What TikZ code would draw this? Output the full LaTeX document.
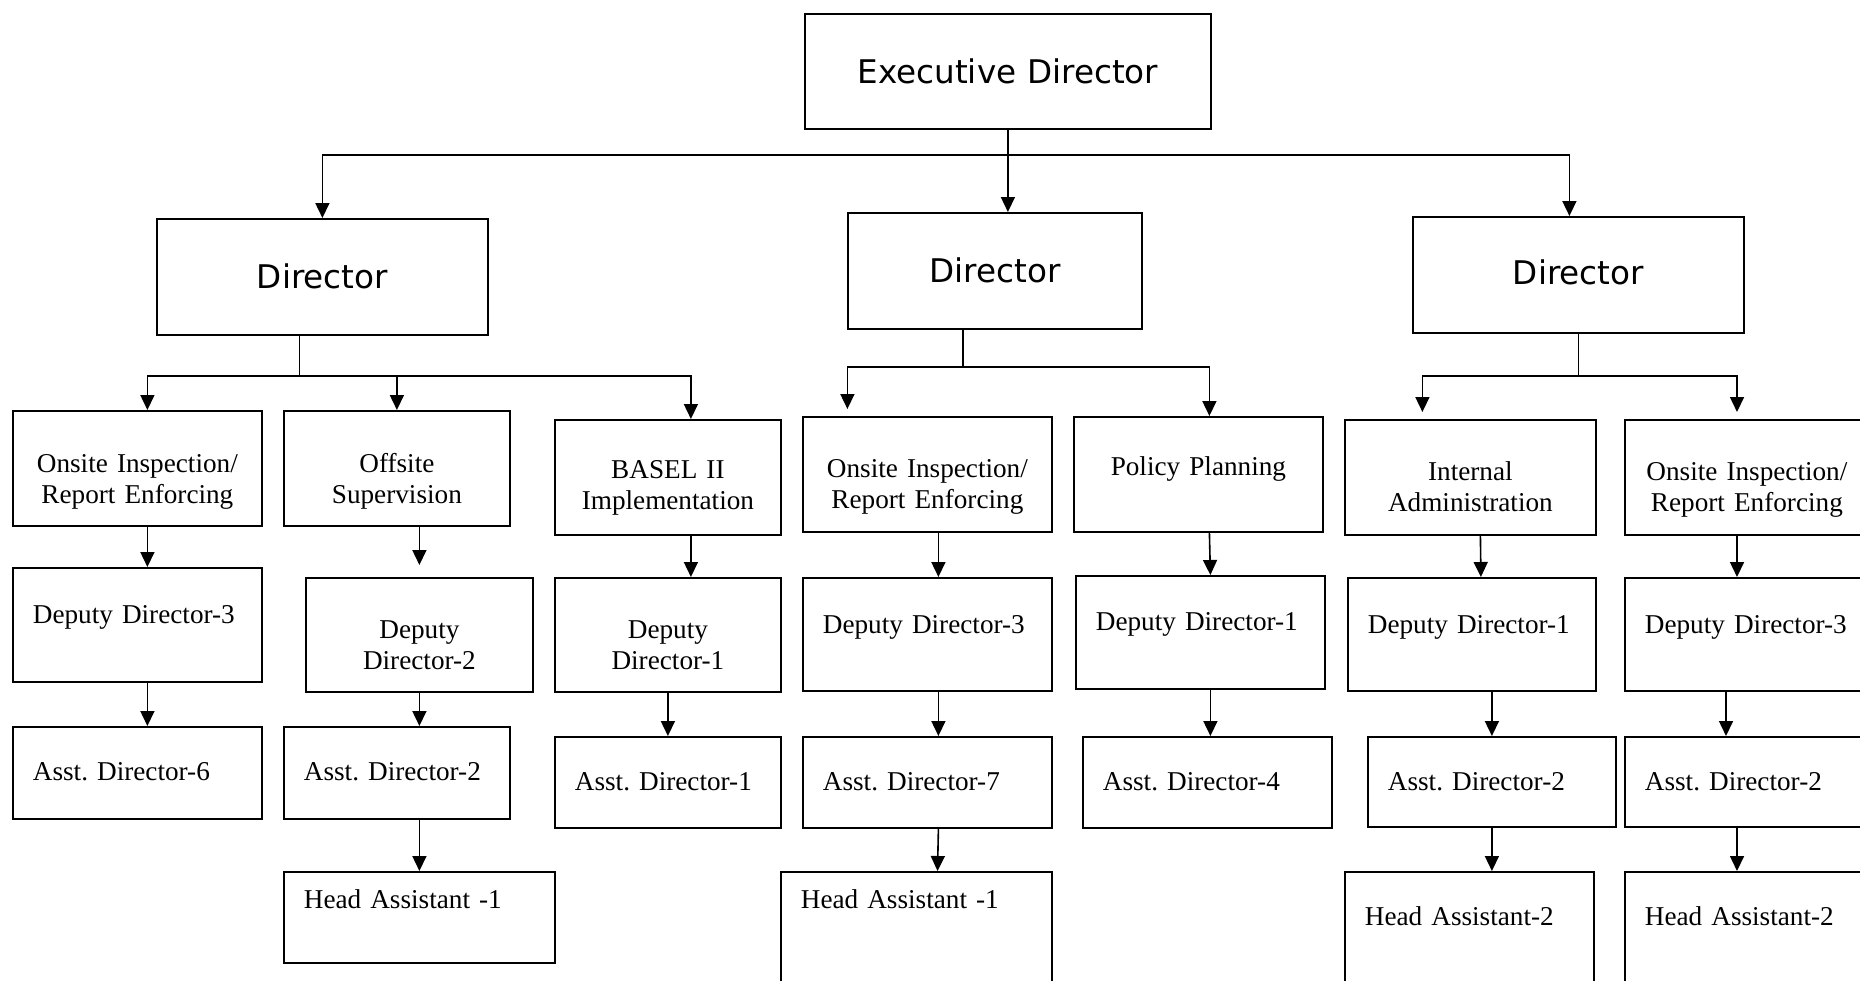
\documentclass[tikz,border=0pt]{standalone}
\usepackage{fontspec}
\setmainfont{Liberation Serif}
\newfontfamily\titlesans{DejaVu Sans}
\usetikzlibrary{arrows.meta}
\frenchspacing
\newcommand\boxfont{\fontsize{27.2pt}{31pt}\selectfont}
\newcommand\titlefont{\titlesans\fontsize{32.6pt}{38pt}\selectfont}

\begin{document}
\begin{tikzpicture}[>={Triangle[length=15pt,width=14pt]},x=1pt,y=-1pt,line width=1.6pt,
  office/.style={draw,line width=1.8pt,inner ysep=0pt,anchor=north west,font=\boxfont},
  cbox/.style={office,align=center,inner xsep=0pt},
  lbox/.style={office,align=left,inner xsep=20pt},
  lift/.style 2 args={text height=#1pt,text depth=#2pt}]
\useasboundingbox (0,0) rectangle (1860,980);
\node[cbox,font=\titlefont,text width=406pt,minimum height=115pt,lift={25}{0}] (exec) at (804,13) {Executive Director};
\node[cbox,font=\titlefont,text width=331pt,minimum height=116pt,lift={24}{0}] (dirA) at (156,218) {Director};
\node[cbox,font=\titlefont,text width=294pt,minimum height=116pt,lift={24}{0}] (dirB) at (847,212) {Director};
\node[cbox,font=\titlefont,text width=331pt,minimum height=116pt,lift={20}{0}] (dirC) at (1412,216) {Director};

\node[cbox,text width=249pt,minimum height=115pt,lift={9}{0}] (secA1) at (12,410) {Onsite Inspection/\\Report Enforcing};
\node[cbox,text width=226pt,minimum height=115pt,lift={9}{0}] (secA2) at (283,410) {Offsite\\Supervision};
\node[cbox,text width=226pt,minimum height=115pt,lift={3}{0}] (secA3) at (554,419) {BASEL II\\Implementation};
\node[cbox,text width=249pt,minimum height=115pt,lift={7}{0}] (secB1) at (802,416) {Onsite Inspection/\\Report Enforcing};
\node[cbox,text width=249pt,minimum height=115pt,lift={3}{0}] (secB2) at (1073,416) {Policy Planning};
\node[cbox,text width=251pt,minimum height=115pt,lift={7}{0}] (secC1) at (1344,419) {Internal\\Administration};
\node[cbox,text width=244pt,minimum height=115pt,lift={7}{0}] (secC2) at (1624,419) {Onsite Inspection/\\Report Enforcing};

\node[lbox,text width=209pt,minimum height=114pt,lift={0}{2}] (depA1) at (12,567) {Deputy Director-3};
\node[cbox,text width=227pt,minimum height=114pt,lift={8}{0}] (depA2) at (305,577) {Deputy\\Director-2};
\node[cbox,text width=226pt,minimum height=114pt,lift={8}{0}] (depA3) at (554,577) {Deputy\\Director-1};
\node[lbox,text width=209pt,minimum height=113pt,lift={0}{1}] (depB1) at (802,577) {Deputy Director-3};
\node[lbox,text width=209pt,minimum height=113pt,lift={0}{3}] (depB2) at (1075,575) {Deputy Director-1};
\node[lbox,text width=208pt,minimum height=113pt,lift={0}{1}] (depC1) at (1347,577) {Deputy Director-1};
\node[lbox,text width=220pt,minimum height=113pt,lift={0}{1}] (depC2) at (1624,577) {Deputy Director-3};

\node[lbox,text width=209pt,minimum height=92pt,lift={16}{0}] (astA1) at (12,726) {Asst. Director-6};
\node[lbox,text width=186pt,minimum height=92pt,lift={16}{0}] (astA2) at (283,726) {Asst. Director-2};
\node[lbox,text width=186pt,minimum height=91pt,lift={17}{0}] (astA3) at (554,736) {Asst. Director-1};
\node[lbox,text width=209pt,minimum height=91pt,lift={17}{0}] (astB1) at (802,736) {Asst. Director-7};
\node[lbox,text width=209pt,minimum height=91pt,lift={17}{0}] (astB2) at (1082,736) {Asst. Director-4};
\node[lbox,text width=208pt,minimum height=90pt,lift={17}{0}] (astC1) at (1367,736) {Asst. Director-2};
\node[lbox,text width=220pt,minimum height=90pt,lift={17}{0}] (astC2) at (1624,736) {Asst. Director-2};

\node[lbox,text width=231pt,minimum height=91pt,lift={0}{17}] (headA2) at (283,871) {Head Assistant -1};
\node[lbox,text width=231pt,minimum height=130pt,lift={0}{56}] (headB1) at (780,871) {Head Assistant -1};
\node[lbox,text width=209pt,minimum height=130pt,lift={0}{22}] (headC1) at (1344,871) {Head Assistant-2};
\node[lbox,text width=220pt,minimum height=130pt,lift={0}{22}] (headC2) at (1624,871) {Head Assistant-2};

\draw[->] (exec) -- (exec |- dirB.north);
\draw[->] (exec.south) -- ++(0,25) -| (dirA);
\draw[->] (exec.south) -- ++(0,25) -| ([xshift=-9pt]dirC.north);

\draw[->] ([xshift=-23pt]dirA.south) -- ++(0,40) -| ([xshift=10pt]secA1.north);
\draw[->] ([xshift=-23pt]dirA.south) -- ++(0,40) -| (secA2);
\draw[->] ([xshift=-23pt]dirA.south) -- ++(0,40) -| ([xshift=23pt]secA3.north);
\draw[->,shorten >=7pt] ([xshift=-32pt]dirB.south) -- ++(0,37) -| ([xshift=-80pt]secB1.north);
\draw[->] ([xshift=-32pt]dirB.south) -- ++(0,37) -| ([xshift=11pt]secB2.north);
\draw[->,shorten >=7pt] (dirC.south) -- ++(0,42) -| ([xshift=-48pt]secC1.north);
\draw[->,shorten >=7pt] (dirC.south) -- ++(0,42) -| ([xshift=113pt]secC2.north west);

\draw[->] ([xshift=10pt]secA1.south) -- ([xshift=10pt]depA1.north);
\draw[->] ([xshift=10pt]depA1.south) -- ([xshift=10pt]astA1.north);
\draw[->,shorten >=12pt] (secA2.south -| depA2.north) -- (depA2.north);
\draw[->] (depA2) -- (depA2 |- astA2.north);
\draw[->] (astA2.south -| headA2.north) -- (headA2);
\draw[->] ([xshift=23pt]secA3.south) -- ([xshift=23pt]depA3.north);
\draw[->] (depA3) -- (astA3);
\draw[->] ([xshift=11pt]secB1.south) -- ([xshift=11pt]depB1.north);
\draw[->] ([xshift=11pt]depB1.south) -- ([xshift=11pt]astB1.north);
\draw[->] ([xshift=11pt]astB1.south) -- ([xshift=157.5pt]headB1.north west);
\draw[->] ([xshift=11pt]secB2.south) -- ([xshift=10pt]depB2.north);
\draw[->] ([xshift=10pt]depB2.south) -- ([xshift=3pt]astB2.north);
\draw[->] ([xshift=10pt]secC1.south) -- ([xshift=9pt]depC1.north);
\draw[->] (depC1.south -| astC1.north) -- (astC1.north);
\draw[->] (astC1) -- (astC1 |- headC1.north);
\draw[->] ([xshift=113pt]secC2.south west) -- ([xshift=113pt]depC2.north west);
\draw[->] ([xshift=102pt]depC2.south west) -- ([xshift=102pt]astC2.north west);
\draw[->] ([xshift=113pt]astC2.south west) -- ([xshift=113pt]headC2.north west);
\end{tikzpicture}
\end{document}
